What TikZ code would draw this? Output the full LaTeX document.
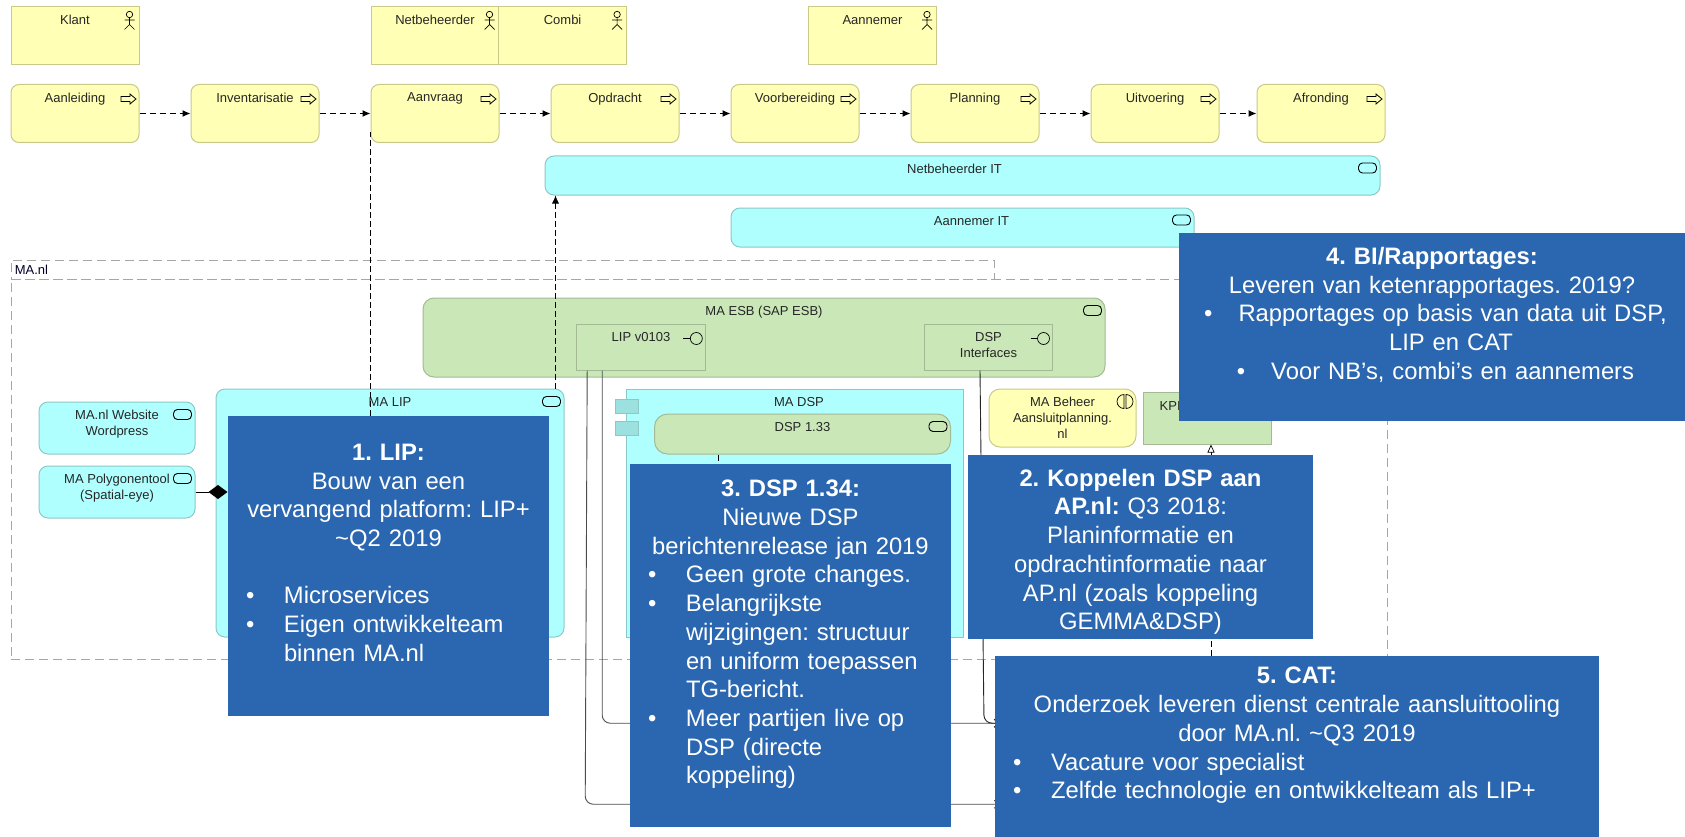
\documentclass[tikz,border=0pt]{standalone}
\usepackage{fontspec}
\setmainfont{Liberation Sans}
\usetikzlibrary{arrows.meta}
\pgfdeclarelayer{front}
\pgfsetlayers{main,front}
\frenchspacing

\definecolor{amyellow}{HTML}{FFFFB5}
\definecolor{amyellowline}{HTML}{C9C98A}
\definecolor{amcyan}{HTML}{B0FFFF}
\definecolor{amcyanline}{HTML}{8CC8C8}
\definecolor{amport}{HTML}{9DE0E0}
\definecolor{amgreen}{HTML}{C9E7B7}
\definecolor{amgreenline}{HTML}{A3BA94}
\definecolor{amblue}{HTML}{2A67B0}

\tikzstyle{lbl} = [font=\fontsize{13}{16}\selectfont, text=black!85, align=center, inner sep=0pt, anchor=north, yshift=-8.5pt]
\tikzstyle{actorbox} = [rectangle, minimum width=128pt, minimum height=58pt, inner sep=0pt, draw=amyellowline, fill=amyellow, line width=1pt]
\tikzstyle{procbox} = [actorbox, rounded corners=8pt]
\tikzstyle{cyanbox} = [rectangle, rounded corners=9pt, inner sep=0pt, draw=amcyanline, fill=amcyan, line width=1pt]
\tikzstyle{greenbox} = [rectangle, inner sep=0pt, draw=amgreenline, fill=amgreen, line width=1pt]
\tikzstyle{portbox} = [rectangle, minimum width=23pt, minimum height=14pt, inner sep=0pt, draw=amcyanline, fill=amport, line width=1pt]
\tikzstyle{group} = [rectangle, inner sep=0pt, draw=black!35, dash pattern=on 9pt off 5pt, line width=0.8pt]
\tikzstyle{note} = [rectangle, inner xsep=0pt, inner ysep=0pt, fill=amblue, text=white, align=center, font=\fontsize{23.8}{28.7}\selectfont]
\tikzstyle{flow} = [line width=1pt, dash pattern=on 6pt off 4pt, -{Latex[length=8pt,width=7pt]}]
\tikzstyle{access} = [line width=0.7pt, dash pattern=on 6pt off 3pt]
\tikzstyle{wire} = [line width=0.9pt, draw=black!70, rounded corners=8pt, -{Straight Barb[length=5pt,width=8pt]}, shorten >=-5pt]

\tikzset{
  actoricon/.pic={
    \draw[line width=0.7pt] (0,0) circle[radius=3.2pt];
    \draw[line width=0.7pt] (0,3.2) -- (0,10) (-5,5.5) -- (5,5.5) (-5,15) -- (0,10) -- (5,15);
  },
  processicon/.pic={
    \draw[line width=0.8pt] (-7.5,-2.5) -- (1.5,-2.5) -- (1.5,-5) -- (7.5,0) -- (1.5,5) -- (1.5,2.5) -- (-7.5,2.5) -- cycle;
  },
  serviceicon/.pic={
    \draw[line width=0.9pt, rounded corners=4pt] (-9,-5) rectangle (9,5);
  },
  interfaceicon/.pic={
    \draw[line width=0.7pt] (-13,0) -- (-6,0);
    \draw[line width=0.7pt] (0,0) circle[radius=6pt];
  },
  collabicon/.pic={
    \draw[line width=0.7pt] (-1,-7) arc[start angle=90, end angle=270, radius=7pt] -- cycle;
    \draw[line width=0.7pt] (1,7) arc[start angle=270, end angle=450, radius=7pt] -- cycle;
  }
}

\newcommand{\notehead}[1]{\rule{0pt}{27pt}\textbf{#1}}
\newcommand{\bulletline}[1]{\makebox[\hsize][l]{\hspace*{18pt}\makebox[38pt][l]{\textbullet}#1}}
\newcommand{\hangline}[1]{\makebox[\hsize][l]{\hspace*{56pt}#1}}

\begin{document}
\begin{tikzpicture}[x=1pt, y=-1pt, node distance=180pt]
\useasboundingbox (0,0) rectangle (1685,837);

% text blocks on top
\begin{pgfonlayer}{front}
\node (liptext) [note, minimum width=321pt, minimum height=300pt, text width=321pt] at (388.5,566) {\notehead{1. LIP:}\\Bouw van een\\vervangend platform: LIP+\\\textasciitilde Q2 2019\\ \strut\\\bulletline{Microservices}\\\bulletline{Eigen ontwikkelteam}\\\hangline{binnen MA.nl}\\ \strut};
\node (dsptext) [note, minimum width=321pt, minimum height=363pt, text width=321pt] at (790.5,645.5) {\notehead{3. DSP 1.34:}\\Nieuwe DSP\\berichtenrelease jan 2019\\\bulletline{Geen grote changes.}\\\bulletline{Belangrijkste}\\\hangline{wijzigingen: structuur}\\\hangline{en uniform toepassen}\\\hangline{TG-bericht.}\\\bulletline{Meer partijen live op}\\\hangline{DSP (directe}\\\hangline{koppeling)}\\ \strut};
\node (aptext) [note, minimum width=345pt, minimum height=184pt, text width=345pt] at (1140.5,547) {\notehead{2. Koppelen DSP aan}\\\textbf{AP.nl:} Q3 2018:\\Planinformatie en\\opdrachtinformatie naar\\AP.nl (zoals koppeling\\GEMMA\&DSP)};
\node (bitext) [note, minimum width=506pt, minimum height=188pt, text width=506pt] at (1432,327) {\notehead{4. BI/Rapportages:}\\Leveren van ketenrapportages. 2019?\\\hspace*{7pt}\textbullet\hspace{26pt}Rapportages op basis van data uit DSP,\\\hspace*{38pt}LIP en CAT\\\hspace*{7pt}\textbullet\hspace{26pt}Voor NB’s, combi’s en aannemers\\ \strut};
\node (cat) [note, minimum width=604pt, minimum height=181pt, text width=604pt] at (1297,746.5) {\notehead{5. CAT:}\\Onderzoek leveren dienst centrale aansluittooling\\door MA.nl. \textasciitilde Q3 2019\\\bulletline{Vacature voor specialist}\\\bulletline{Zelfde technologie en ontwikkelteam als LIP+}\\ \strut};
\end{pgfonlayer}

% MA.nl group
\node (manltab) [group, minimum width=983pt, minimum height=19pt, label={[lbl, anchor=west, yshift=8.5pt, xshift=4pt, text=black!85!blue]west:MA.nl}] at (502.5,269.5) {};
\node (manl) [group, minimum width=1376pt, minimum height=380pt] at (699,469) {};

% actors
\node (klant) [actorbox, label={[lbl]north:Klant}] at (75,36) {};
\node (aannemer) [actorbox, label={[lbl]north:Aannemer}] at (872.5,36) {};

% process row
\node (aanleiding) [procbox, below of=klant, node distance=77.5pt, label={[lbl]north:Aanleiding}] {};
\node (inventarisatie) [procbox, right of=aanleiding, label={[lbl]north:Inventarisatie}] {};
\node (aanvraag) [procbox, right of=inventarisatie, label={[lbl]north:Aanvraag}] {};
\node (opdracht) [procbox, right of=aanvraag, label={[lbl]north:Opdracht}] {};
\node (voorbereiding) [procbox, right of=opdracht, label={[lbl]north:Voorbereiding}] {};
\node (planning) [procbox, right of=voorbereiding, label={[lbl]north:Planning}] {};
\node (uitvoering) [procbox, right of=planning, label={[lbl]north:Uitvoering}] {};
\node (afronding) [procbox, right of=uitvoering, node distance=166pt, label={[lbl]north:Afronding}] {};
\node (netbeheerder) [actorbox, above of=aanvraag, node distance=77.5pt, label={[lbl]north:Netbeheerder}] {};
\node (combi) [actorbox, right of=netbeheerder, node distance=127.6pt, label={[lbl]north:Combi}] {};

% IT systems
\node (nbit) [cyanbox, minimum width=835pt, minimum height=39pt, label={[lbl, xshift=-8pt]north:Netbeheerder IT}] at (962.5,175.5) {};
\node (anit) [cyanbox, minimum width=463pt, minimum height=39pt, label={[lbl, xshift=9pt]north:Aannemer IT}] at (962.5,227.5) {};

% ESB
\node (esb) [greenbox, rounded corners=11pt, minimum width=682pt, minimum height=79pt, label={[lbl]north:MA ESB (SAP ESB)}] at (764,337.5) {};
\node (lipv) [greenbox, minimum width=128.6pt, minimum height=46pt, label={[lbl]north:LIP v0103}] at (641,347) {};
\node (dspif) [greenbox, minimum width=128pt, minimum height=46pt, label={[lbl]north:DSP\\Interfaces}] at (988.5,347) {};

% applications
\node (wordpress) [cyanbox, minimum width=156pt, minimum height=52pt, label={[lbl]north:MA.nl Website\\Wordpress}] at (117,428) {};
\node (polygon) [cyanbox, minimum width=156pt, minimum height=52pt, label={[lbl]north:MA Polygonentool\\(Spatial-eye)}] at (117,492) {};
\node (malip) [cyanbox, minimum width=348pt, minimum height=248pt, label={[lbl]north:MA LIP}] at (390,513) {};
\node (madsp) [cyanbox, rounded corners=0pt, minimum width=337pt, minimum height=248pt, label={[lbl, xshift=4pt]north:MA DSP}] at (795,513) {};
\node (portone) [portbox] at (626.5,406) {};
\node (porttwo) [portbox] at (626.5,428) {};
\node (dspold) [greenbox, rounded corners=13pt, minimum width=296pt, minimum height=40pt, label={[lbl]north:DSP 1.33}] at (802.5,434) {};
\node (beheer) [actorbox, rounded corners=11pt, minimum width=147pt, label={[lbl]north:MA Beheer\\Aansluitplanning.\\nl}] at (1062.5,418) {};
\node (kpi) [greenbox, minimum width=128pt, minimum height=52pt, label={[lbl, anchor=north west, xshift=17pt, yshift=-1pt]north west:KPI}] at (1207,418) {};

% icons
\pic at ([shift={(-10,8)}]klant.north east) {actoricon};
\pic at ([shift={(-10,8)}]netbeheerder.north east) {actoricon};
\pic at ([shift={(-10,8)}]combi.north east) {actoricon};
\pic at ([shift={(-10,8)}]aannemer.north east) {actoricon};
\pic at ([shift={(-11,15)}]aanleiding.north east) {processicon};
\pic at ([shift={(-11,15)}]inventarisatie.north east) {processicon};
\pic at ([shift={(-11,15)}]aanvraag.north east) {processicon};
\pic at ([shift={(-11,15)}]opdracht.north east) {processicon};
\pic at ([shift={(-11,15)}]voorbereiding.north east) {processicon};
\pic at ([shift={(-11,15)}]planning.north east) {processicon};
\pic at ([shift={(-11,15)}]uitvoering.north east) {processicon};
\pic at ([shift={(-11,15)}]afronding.north east) {processicon};
\pic at ([shift={(-13,12.5)}]nbit.north east) {serviceicon};
\pic at ([shift={(-13,12.5)}]anit.north east) {serviceicon};
\pic at ([shift={(-13,13)}]esb.north east) {serviceicon};
\pic at ([shift={(-13,13)}]wordpress.north east) {serviceicon};
\pic at ([shift={(-13,13)}]polygon.north east) {serviceicon};
\pic at ([shift={(-13,13)}]malip.north east) {serviceicon};
\pic at ([shift={(-13,13)}]dspold.north east) {serviceicon};
\pic at ([shift={(-9.5,15)}]lipv.north east) {interfaceicon};
\pic at ([shift={(-9.5,15)}]dspif.north east) {interfaceicon};
\pic at ([shift={(-11.5,13)}]beheer.north east) {collabicon};

% process flow
\draw [flow] (aanleiding) -- (inventarisatie);
\draw [flow] (inventarisatie) -- (aanvraag);
\draw [flow] (aanvraag) -- (opdracht);
\draw [flow] (opdracht) -- (voorbereiding);
\draw [flow] (voorbereiding) -- (planning);
\draw [flow] (planning) -- (uitvoering);
\draw [flow] (uitvoering) -- (afronding);

% access relations
\draw [access] (liptext.north -| aanvraag.west) -- ([yshift=11pt]aanvraag.south west);
\draw [access, -{Latex[length=8pt,width=7pt]}] ([xshift=-9pt]malip.north east) -- ([xshift=-9pt]malip.north east |- nbit.south);
\draw [access] ([xshift=64pt]dspold.south west) -- ([xshift=64pt]dspold.south west |- dsptext.north);
\draw [access, -{Triangle[open, fill=white, length=8pt, width=7pt]}] ([xshift=4pt]cat.north -| kpi.south) -- ([xshift=4pt]kpi.south);
\draw [line width=0.9pt, -{Diamond[length=19pt,width=14pt]}, shorten >=-12pt] (polygon.east) -- (polygon.east -| malip.west);

% interfaces to CAT
\draw [wire] ([xshift=11pt]lipv.south west) -- ([xshift=9pt, yshift=33pt]lipv.south west |- cat.south) -- ([yshift=33pt]cat.south west);
\draw [wire] ([xshift=26pt]lipv.south west) -- ([xshift=26pt, yshift=114pt]lipv.south west |- cat.south) -- ([yshift=114pt]cat.south west);
\draw [wire, draw=black!85] ([xshift=56pt]dspif.south west) -- ([xshift=60pt, yshift=114pt]dspif.south west |- cat.south) -- ([yshift=114pt]cat.south west);
\end{tikzpicture}
\end{document}
